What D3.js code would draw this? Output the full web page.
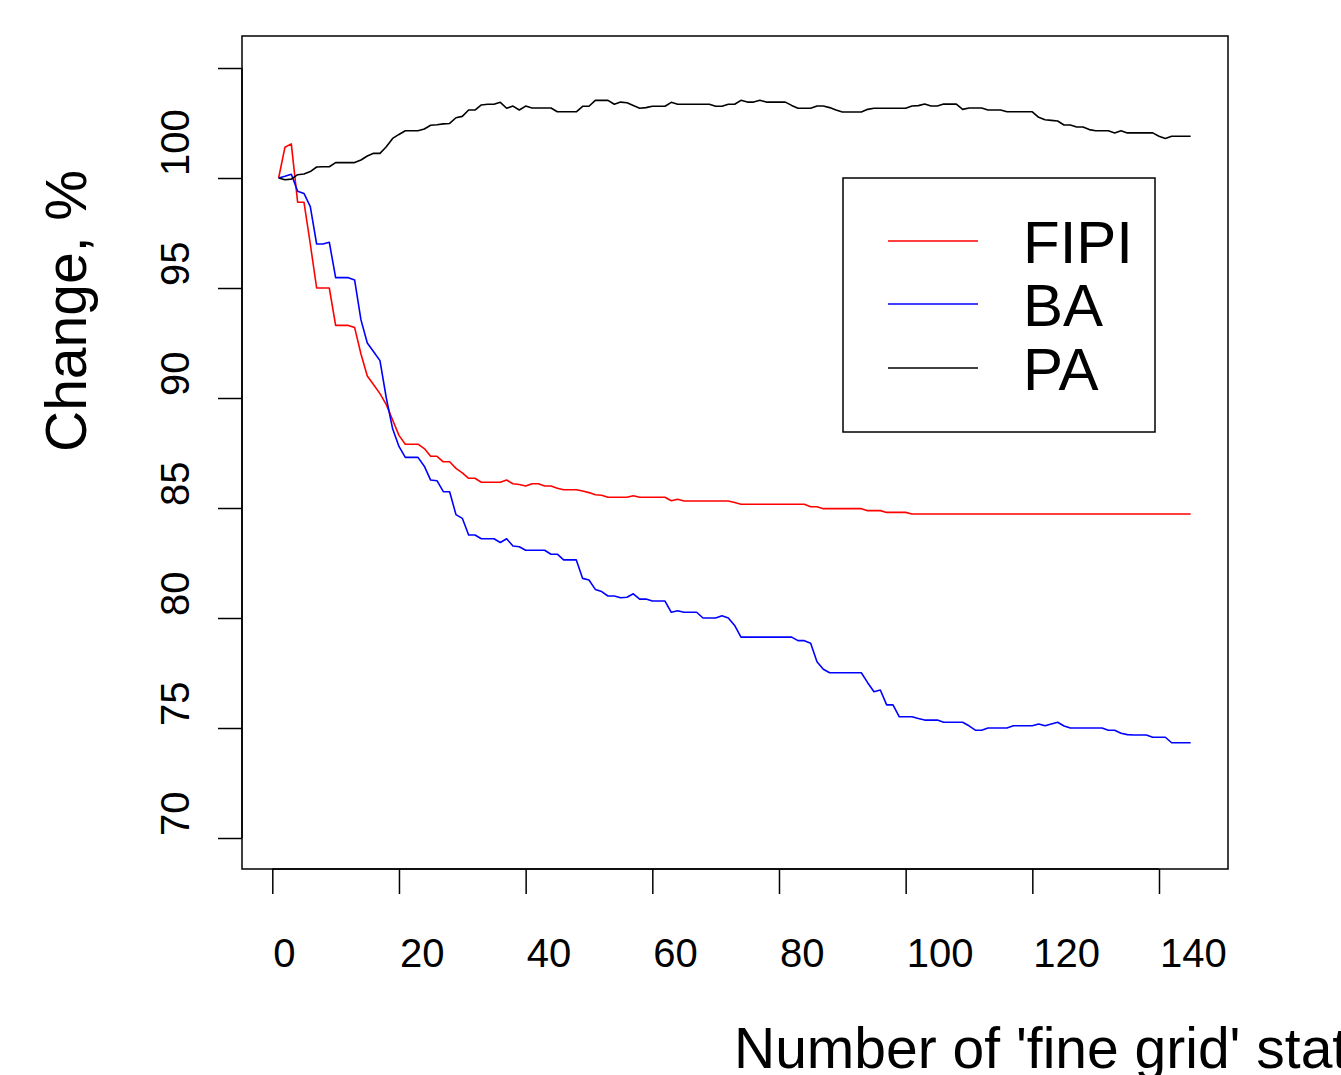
<!DOCTYPE html>
<html>
<head>
<meta charset="utf-8">
<script src="https://cdn.jsdelivr.net/npm/d3@7"></script>
<style>
  body { margin: 0; background: #fff; }
  text { font-family: "Liberation Sans", Arial, sans-serif; fill: #000; }
</style>
</head>
<body>
<div id="chart"></div>
<script>
// station count on the x axis (1..145)
var stations = d3.range(1, 146);

var fipi = [
  100.0, 101.4, 101.55, 98.9, 98.9, 97.0, 95.0, 95.0, 95.0, 93.3,
  93.3, 93.3, 93.2, 92.0, 91.0, 90.6, 90.2, 89.7, 89.0, 88.3,
  87.9, 87.9, 87.9, 87.7, 87.35, 87.35, 87.1, 87.1, 86.8, 86.6,
  86.35, 86.35, 86.17, 86.17, 86.17, 86.17, 86.27, 86.1, 86.07, 86.0,
  86.1, 86.1, 86.0, 86.0, 85.9, 85.83, 85.83, 85.83, 85.77, 85.7,
  85.6, 85.58, 85.49, 85.49, 85.49, 85.49, 85.56, 85.49, 85.49, 85.49,
  85.49, 85.49, 85.33, 85.4, 85.32, 85.32, 85.32, 85.32, 85.32, 85.32,
  85.32, 85.32, 85.25, 85.17, 85.17, 85.17, 85.17, 85.17, 85.17, 85.17,
  85.17, 85.17, 85.17, 85.17, 85.06, 85.06, 84.97, 84.97, 84.97, 84.97,
  84.97, 84.97, 84.97, 84.88, 84.88, 84.88, 84.8, 84.8, 84.8, 84.8,
  84.73, 84.73, 84.73, 84.73, 84.73, 84.73, 84.73, 84.73, 84.73, 84.73,
  84.73, 84.73, 84.73, 84.73, 84.73, 84.73, 84.73, 84.73, 84.73, 84.73,
  84.73, 84.73, 84.73, 84.73, 84.73, 84.73, 84.73, 84.73, 84.73, 84.73,
  84.73, 84.73, 84.73, 84.73, 84.73, 84.73, 84.73, 84.73, 84.73, 84.73,
  84.73, 84.73, 84.73, 84.73, 84.73
];

var ba = [
  100.0, 100.08, 100.17, 99.4, 99.3, 98.7, 97.0, 97.0, 97.08, 95.47,
  95.47, 95.47, 95.36, 93.55, 92.5, 92.1, 91.7, 90.0, 88.6, 87.8,
  87.3, 87.3, 87.3, 86.9, 86.27, 86.24, 85.74, 85.74, 84.7, 84.53,
  83.77, 83.77, 83.6, 83.6, 83.6, 83.43, 83.6, 83.27, 83.24, 83.08,
  83.08, 83.08, 83.08, 82.9, 82.9, 82.64, 82.64, 82.64, 81.8, 81.73,
  81.3, 81.2, 81.0, 81.0, 80.92, 80.94, 81.1, 80.86, 80.86, 80.77,
  80.77, 80.77, 80.26, 80.33, 80.26, 80.26, 80.26, 80.0, 80.0, 80.0,
  80.1, 80.0, 79.66, 79.13, 79.13, 79.13, 79.13, 79.13, 79.13, 79.13,
  79.13, 79.13, 78.97, 78.97, 78.85, 78.01, 77.67, 77.51, 77.51, 77.51,
  77.51, 77.51, 77.51, 77.06, 76.65, 76.73, 76.05, 76.05, 75.51, 75.51,
  75.51, 75.43, 75.36, 75.36, 75.36, 75.26, 75.26, 75.26, 75.26, 75.1,
  74.9, 74.9, 75.0, 75.0, 75.0, 75.0, 75.1, 75.1, 75.1, 75.1,
  75.18, 75.1, 75.18, 75.26, 75.09, 75.0, 75.0, 75.0, 75.0, 75.0,
  75.0, 74.9, 74.9, 74.76, 74.7, 74.68, 74.68, 74.68, 74.58, 74.58,
  74.58, 74.33, 74.33, 74.33, 74.33
];

var pa = [
  100.0, 99.92, 99.95, 100.15, 100.18, 100.29, 100.5, 100.51, 100.51, 100.7,
  100.7, 100.7, 100.7, 100.82, 101.0, 101.12, 101.12, 101.42, 101.8, 101.98,
  102.15, 102.15, 102.15, 102.23, 102.4, 102.42, 102.46, 102.48, 102.74, 102.8,
  103.09, 103.09, 103.32, 103.35, 103.35, 103.44, 103.17, 103.27, 103.09, 103.27,
  103.18, 103.18, 103.18, 103.18, 103.01, 103.01, 103.01, 103.01, 103.26, 103.26,
  103.53, 103.53, 103.53, 103.35, 103.45, 103.42, 103.3, 103.17, 103.2, 103.26,
  103.26, 103.26, 103.44, 103.35, 103.35, 103.35, 103.35, 103.35, 103.35, 103.26,
  103.26, 103.35, 103.35, 103.53, 103.45, 103.45, 103.53, 103.45, 103.45, 103.45,
  103.45, 103.3, 103.17, 103.17, 103.17, 103.27, 103.27, 103.2, 103.09, 103.0,
  103.0, 103.0, 103.0, 103.12, 103.17, 103.17, 103.17, 103.17, 103.17, 103.17,
  103.27, 103.29, 103.36, 103.27, 103.27, 103.36, 103.36, 103.36, 103.12, 103.18,
  103.18, 103.18, 103.09, 103.09, 103.09, 103.01, 103.01, 103.01, 103.01, 103.01,
  102.76, 102.65, 102.62, 102.59, 102.41, 102.41, 102.32, 102.32, 102.2, 102.15,
  102.15, 102.15, 102.05, 102.15, 102.05, 102.05, 102.05, 102.05, 102.05, 101.9,
  101.8, 101.9, 101.9, 101.9, 101.9
];

var seriesNames = ["FIPI", "BA", "PA"];
var seriesColors = ["#ff0000", "#0000ff", "#000000"];
var xTicks = [0, 20, 40, 60, 80, 100, 120, 140];
var yTicks = [70, 75, 80, 85, 90, 95, 100, 105];
var yLabels = [70, 75, 80, 85, 90, 95, 100];

var svgWidth = 1341;
var svgHeight = 1075;

// plot box in pixels (R style)
var box = { left: 242, right: 1228, top: 36, bottom: 869 };

var svg = d3.select("#chart")
  .append("svg")
  .attr("width", svgWidth)
  .attr("height", svgHeight);

var xScale = d3.scaleLinear()
  .domain([0, 140])
  .range([272.3, 1159]);

var yScale = d3.scaleLinear()
  .domain([70, 100])
  .range([838, 178]);

// box round the plot
svg.append("rect")
  .attr("x", box.left)
  .attr("y", box.top)
  .attr("width", box.right - box.left)
  .attr("height", box.bottom - box.top)
  .attr("fill", "none")
  .attr("stroke", "#000")
  .attr("stroke-width", 1.5);

// x axis
var bottomAxis = d3.axisBottom(xScale)
  .tickValues(xTicks)
  .tickSize(25)
  .tickFormat("");

var xAxisG = svg.append("g")
  .attr("transform", `translate(0, ${box.bottom})`)
  .call(bottomAxis);
xAxisG.select(".domain").attr("d", `M${xScale(0)},0H${xScale(140)}`);
xAxisG.selectAll("line, path").attr("stroke", "#000").attr("stroke-width", 1.5);

svg.selectAll(".xlab")
  .data(xTicks)
  .enter()
  .append("text")
  .attr("class", "xlab")
  .attr("x", d => xScale(d) + 1)
  .attr("y", 967)
  .attr("font-size", 40)
  .text(d => d);

// y axis
var leftAxis = d3.axisLeft(yScale)
  .tickValues(yTicks)
  .tickSize(24)
  .tickFormat("");

var yAxisG = svg.append("g")
  .attr("transform", `translate(${box.left}, 0)`)
  .call(leftAxis);
yAxisG.select(".domain").attr("d", `M0,${yScale(70)}V${yScale(105)}`);
yAxisG.selectAll("line, path").attr("stroke", "#000").attr("stroke-width", 1.5);

svg.selectAll(".ylab")
  .data(yLabels)
  .enter()
  .append("text")
  .attr("class", "ylab")
  .attr("transform", d => `translate(189, ${yScale(d) - 2}) rotate(-90)`)
  .attr("font-size", 40)
  .text(d => d);

// lines
var line = d3.line()
  .x((d, i) => xScale(stations[i]))
  .y(d => yScale(d));

[fipi, ba, pa].forEach((s, i) => {
  svg.append("path")
    .datum(s)
    .attr("d", line)
    .attr("fill", "none")
    .attr("stroke", seriesColors[i])
    .attr("stroke-width", 1.6)
    .attr("stroke-linejoin", "round");
});

// axis titles
svg.append("text")
  .attr("x", 734)
  .attr("y", 1068)
  .attr("font-size", 57)
  .text("Number of 'fine grid' stations");

svg.append("text")
  .attr("transform", "translate(86, 452) rotate(-90)")
  .attr("font-size", 57)
  .text("Change, %");

// legend
var legend = svg.append("g");
legend.append("rect")
  .attr("x", 843)
  .attr("y", 178)
  .attr("width", 312)
  .attr("height", 254)
  .attr("fill", "#fff")
  .attr("stroke", "#000")
  .attr("stroke-width", 1.5);

var legendY = [241, 304, 368];
seriesNames.forEach((name, i) => {
  legend.append("line")
    .attr("x1", 888)
    .attr("x2", 978)
    .attr("y1", legendY[i])
    .attr("y2", legendY[i])
    .attr("stroke", seriesColors[i])
    .attr("stroke-width", 1.6);
  legend.append("text")
    .attr("x", 1023)
    .attr("y", legendY[i] + 22)
    .attr("font-size", 60)
    .text(name);
});
</script>
</body>
</html>
